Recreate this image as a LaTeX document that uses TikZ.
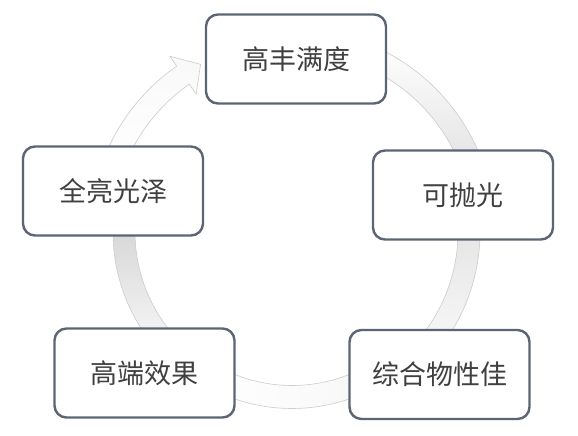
\documentclass[tikz,border=0pt]{standalone}
\usepackage{fontspec}
\setmainfont{Noto Sans CJK SC}
\usetikzlibrary{calc}
\definecolor{boxline}{HTML}{5D6575}
\definecolor{boxtext}{HTML}{404040}
\tikzset{
  stagebox/.style={draw=boxline, line width=2.4pt, rounded corners=12pt, fill=white,
    minimum width=180pt, minimum height=89pt, inner sep=0pt,
    text=boxtext, font=\fontsize{27pt}{31pt}\selectfont},
  ribbonedge/.style={draw=gray!40, line width=0.6pt}
}
% #1 start angle, #2 head-back angle, #3 tip angle, #4 radius, #5 half width, #6 head half width, #7 options
\newcommand\myribbon[7]{%
  \path[#7] ($(ctr)+(#1:#4pt+#5pt)$) arc[start angle=#1, end angle=#2, radius=#4pt+#5pt]
    -- ($(ctr)+(#2:#4pt+#6pt)$) -- ($(ctr)+(#3:#4pt)$) -- ($(ctr)+(#2:#4pt-#6pt)$)
    -- ($(ctr)+(#2:#4pt-#5pt)$) arc[start angle=#2, end angle=#1, radius=#4pt-#5pt] -- cycle;
}
\begin{document}
\begin{tikzpicture}[x=1pt,y=-1pt]
\useasboundingbox (0,0) rectangle (578,436);
\fill[white] (0,0) rectangle (578,436);
\coordinate (ctr) at (292,232);
% curved arrows (clockwise)
\myribbon{70}{20}{13}{192}{11}{23}{ribbonedge, top color=white, bottom color=gray!26}
\myribbon{5}{-40}{-47}{177}{11}{23}{ribbonedge, top color=gray!22, bottom color=gray!4}
\myribbon{-65}{-116}{-123}{165}{11.5}{23}{ribbonedge, left color=white, right color=gray!6}
\myribbon{-135}{-188}{-195}{168}{11}{23}{ribbonedge, top color=gray!40, bottom color=gray!4}
\myribbon{-200}{-235.2}{-241.4}{191}{11}{23}{ribbonedge, top color=gray!5, bottom color=white}
% boxes
\node[stagebox] (top)   at (296,59)    {高丰满度};
\node[stagebox] (right) at (463,195)   {可抛光};
\node[stagebox] (br)    at (439.5,374.5) {综合物性佳};
\node[stagebox] (bl)    at (144.5,373) {高端效果};
\node[stagebox] (left)  at (113,191)   {全亮光泽};
\end{tikzpicture}
\end{document}
